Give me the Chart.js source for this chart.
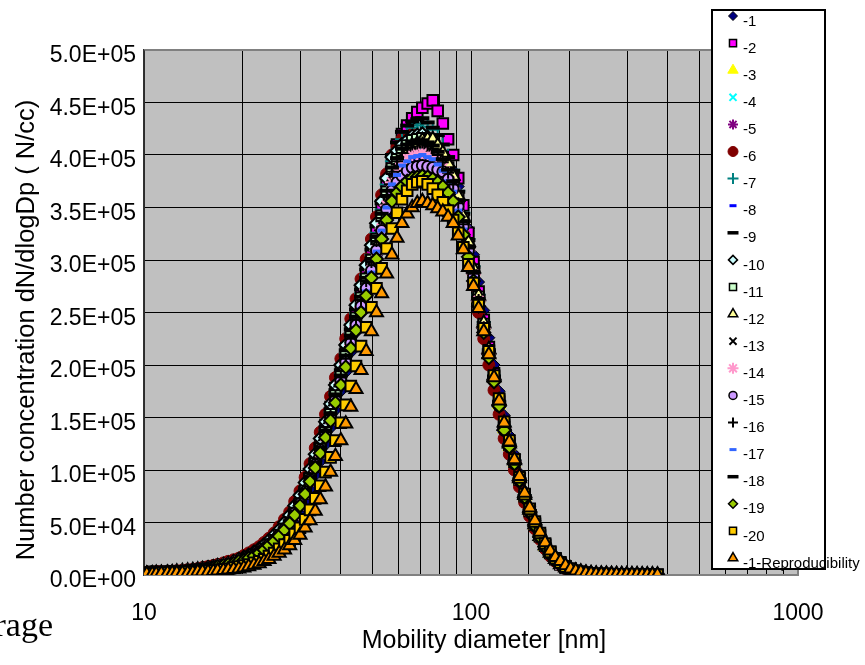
<!DOCTYPE html>
<html>
<head>
<meta charset="utf-8">
<script src="https://cdn.jsdelivr.net/npm/chart.js@4/dist/chart.umd.min.js"></script>
<style>
html,body{margin:0;padding:0;background:#ffffff;}
#wrap{width:865px;height:665px;position:relative;}
canvas{display:block;}
</style>
</head>
<body>
<div id="wrap"><canvas id="c" width="865" height="665"></canvas></div>
<script>
// ---------- DATA (values in units of 1e3 N/cc) ----------
const diameters = [10.2,10.6,10.9,11.3,11.8,12.2,12.6,13.1,13.6,14.1,
  14.6,15.1,15.7,16.3,16.8,17.5,18.1,18.8,19.5,20.2,
  20.9,21.7,22.5,23.3,24.1,25.0,25.9,26.9,27.9,28.9,
  30.0,31.1,32.2,33.4,34.6,35.9,37.2,38.5,40.0,41.4,
  42.9,44.5,46.1,47.8,49.6,51.4,53.3,55.2,57.3,59.4,
  61.5,63.8,66.1,68.5,71.0,73.7,76.4,79.1,82.0,85.1,
  88.2,91.4,94.7,98.2,101.8,105.5,109.4,113.4,117.6,121.9,
  126.3,131.0,135.8,140.7,145.9,151.2,156.8,162.5,168.5,174.7,
  181.1,187.7,194.6,201.7,209.1,216.7,224.7,232.9,241.4,250.3,
  259.5,269.0,278.8,289.0,299.6,310.6,322.0,333.8,346.0,358.7,
  371.8];

const s1 = [2,2,2,2,2,2.5,3,3,3,3.5, 4,4.5,5,6,7,8,9,10,12,13, 15,17,20,23,26,30,34,39,45,52,
  60,70,82,95,108,124,140,157,175,193, 212,231,250,268,286,304,322,342,362,375, 385,391,396,398,400,399,398,395,392,389,
  385,370,352,330,305,279,252,226,200,175, 152,133,115,97,80,65,52,41,31,23, 17,12,8,6,4,3,2,1.5,1,0.9,
  0.8,0.6,0.5,0.45,0.4,0.35,0.3,0.25,0.2,0.15, 0.1];
const s2 = [2,3,3,3,3,3,3,3.5,4,4.5, 5,6,7,8,9,10,11,12,14,16, 18,21,24,27,31,35,40,46,53,62,
  72,84,96,110,126,143,160,178,196,215, 234,253,272,291,310,330,352,375,395,410, 420,428,435,441,445,449,452,442,430,415,
  400,378,352,326,298,270,243,217,192,167, 143,126,110,92,76,62,49,38,29,22, 16,11,8,6,4,3,2,1.5,1,0.9,
  0.8,0.7,0.6,0.5,0.4,0.35,0.3,0.25,0.2,0.15, 0.1];
const s3 = [1,1.5,2,2,2,2.5,3,3.5,4,4.5, 5,5.5,6,7,8,9,10,11,13,14, 16,18,21,24,28,32,37,43,49,57,
  66,77,90,104,118,134,150,168,186,204, 222,240,258,276,295,314,335,358,380,390, 398,404,408,410,412,413,413,407,400,390,
  378,358,338,314,289,263,237,212,187,162, 139,122,107,90,74,60,47,36,27,20, 15,10,7,5,3,2.5,2,1.5,1,0.9,
  0.8,0.6,0.5,0.45,0.4,0.35,0.3,0.25,0.2,0.15, 0.1];
const s4 = [2,2,2,2.5,3,3,3,3.5,4,4.5, 5,5.5,6,7,8,9,10,11,13,15, 17,19,22,25,29,33,38,44,51,59,
  69,80,93,107,121,137,153,171,189,207, 226,244,262,280,297,317,338,360,380,390, 398,402,405,406,405,403,400,394,388,379,
  368,350,330,307,283,258,233,209,185,161, 138,121,106,90,74,60,47,36,27,20, 15,10,7,5,3,2.5,2,1.5,1,0.9,
  0.8,0.6,0.5,0.45,0.4,0.35,0.3,0.25,0.2,0.15, 0.1];
const s5 = [2,2,2,2.5,3,3,3,3.5,4,4.5, 5,6,7,8,9,10,11,12,14,16, 18,20,23,26,30,34,39,45,52,60,
  70,81,94,108,122,138,155,172,190,209, 228,246,265,282,300,320,342,365,386,396, 404,408,410,411,412,410,406,400,394,384,
  372,354,334,311,286,260,235,210,186,162, 139,122,107,90,74,60,47,36,27,20, 15,10,7,5,3,2.5,2,1.5,1,0.9,
  0.8,0.6,0.5,0.45,0.4,0.35,0.3,0.25,0.2,0.15, 0.1];
const s6 = [2,2.5,3,3,3,3.5,4,4.5,5,5.5, 6,7,8,9,10,11.5,13,14.5,16,18.5, 21,24,27,31,35,40,46,53,60,70,
  80,93,106,121,136,153,170,188,206,225, 244,263,282,301,320,341,362,382,400,408, 415,418,420,419,418,414,408,401,392,380,
  366,346,325,301,276,250,225,200,176,153, 130,115,100,84,69,56,44,34,25,18, 13,9,6,4.5,3,2.5,2,1.5,1,0.9,
  0.8,0.6,0.5,0.45,0.4,0.35,0.3,0.25,0.2,0.15, 0.1];
const s7 = [2,2,2,2.5,3,3,3,3.5,4,4.5, 5,5.5,6,7,8,9,10,11,13,15, 17,19,22,25,29,34,39,45,51,60,
  69,81,93,107,122,138,155,173,192,211, 230,249,268,286,305,326,348,372,394,405, 415,421,426,428,430,427,424,418,410,399,
  386,366,345,320,294,267,241,215,190,166, 142,125,109,92,76,62,48,37,28,21, 15,10,7,5,3.5,2.5,2,1.5,1,0.9,
  0.8,0.6,0.5,0.45,0.4,0.35,0.3,0.25,0.2,0.15, 0.1];
const s8 = [1,1.5,2,2,2,2.5,3,3.5,4,4.5, 5,5.5,6,7,8,9,10,11,13,14, 16,18,21,24,28,32,37,43,49,57,
  66,78,90,104,118,134,150,168,186,204, 222,240,259,277,295,315,336,359,381,391, 400,405,409,411,412,410,408,402,396,386,
  375,356,336,312,288,262,236,211,187,163, 139,122,107,90,74,60,47,36,27,20, 15,10,7,5,3,2.5,2,1.5,1,0.9,
  0.8,0.6,0.5,0.45,0.4,0.35,0.3,0.25,0.2,0.15, 0.1];
const s9 = [2,2,2,2.5,3,3,3,3.5,4,4.5, 5,6,7,8,9,10,11,12,14,16, 18,20,23,26,30,35,40,46,53,62,
  71,83,96,110,125,141,158,176,195,214, 234,253,272,291,310,332,354,378,400,412, 422,428,432,434,435,431,426,419,410,398,
  385,365,344,319,293,266,240,214,189,165, 141,124,108,91,75,61,48,37,28,21, 15,10,7,5,3.5,2.5,2,1.5,1,0.9,
  0.8,0.6,0.5,0.45,0.4,0.35,0.3,0.25,0.2,0.15, 0.1];
const s10 = [2,2,2,2.5,3,3,3,3.5,4,4.5, 5,6,7,8,9,10,11,13,15,17, 19,22,25,29,33,38,43,50,57,66,
  76,88,101,115,130,146,163,181,200,219, 238,257,276,295,314,335,356,378,398,404, 410,414,418,419,420,417,414,407,400,389,
  376,356,336,312,287,261,235,210,185,161, 138,122,106,89,73,59,46,36,27,20, 14,10,7,5,3,2.5,2,1.5,1,0.9,
  0.8,0.6,0.5,0.45,0.4,0.35,0.3,0.25,0.2,0.15, 0.1];
const s11 = [2,2,2,2.5,3,3,3,3.5,4,4.5, 5,5.5,6,7,8,9,10,11,13,15, 17,19,22,25,29,33,38,44,50,59,
  68,80,92,106,120,136,153,171,189,208, 227,245,264,282,300,320,342,365,387,396, 404,409,414,415,416,414,411,405,398,388,
  377,359,339,315,291,265,239,214,189,165, 141,124,108,91,75,61,48,37,28,21, 15,10,7,5,3.5,2.5,2,1.5,1,0.9,
  0.8,0.6,0.5,0.45,0.4,0.35,0.3,0.25,0.2,0.15, 0.1];
const s12 = [1,1.5,2,2,2,2.5,3,3.5,4,4.5, 5,5.5,6,7,8,9,10,11,12,14, 16,18,21,24,28,32,36,42,48,56,
  65,76,88,102,116,132,148,165,183,201, 220,238,256,274,292,312,332,355,376,387, 396,403,408,411,414,415,415,409,402,392,
  380,361,341,317,292,266,240,215,190,166, 142,125,109,92,76,62,48,37,28,21, 15,10,7,5,3.5,2.5,2,1.5,1,0.9,
  0.8,0.6,0.5,0.45,0.4,0.35,0.3,0.25,0.2,0.15, 0.1];
const s13 = [2,2,2,2.5,3,3,3,3.5,4,4.5, 5,5.5,6,7,8,9,10,11,13,15, 17,19,22,25,29,33,38,44,50,58,
  67,79,91,105,119,135,151,168,186,204, 223,241,259,276,294,313,334,356,378,388, 396,400,404,405,406,404,401,396,390,381,
  370,352,333,310,287,262,236,211,187,163, 140,123,108,91,75,61,48,37,28,21, 15,10,7,5,3.5,2.5,2,1.5,1,0.9,
  0.8,0.6,0.5,0.45,0.4,0.35,0.3,0.25,0.2,0.15, 0.1];
const s14 = [2,2,2,2.5,3,3,3,3.5,4,4.5, 5,5.5,6,7,8,9,10,11,13,14, 16,18,21,24,28,32,37,43,49,57,
  66,77,89,103,117,132,148,165,183,201, 219,237,255,272,290,309,330,352,374,384, 392,397,400,401,402,400,398,393,388,379,
  368,351,332,309,286,261,235,211,187,163, 140,123,108,91,75,61,48,37,28,21, 15,10,7,5,3.5,2.5,2,1.5,1,0.9,
  0.8,0.6,0.5,0.45,0.4,0.35,0.3,0.25,0.2,0.15, 0.1];
const s15 = [2,2,2,2.5,3,3,3,3.5,4,4.5, 5,5.5,6,7,8,9,10,11,13,15, 17,19,22,25,29,33,38,44,50,59,
  68,79,91,105,119,134,150,167,185,203, 221,238,256,273,290,309,328,348,366,374, 380,385,388,389,390,389,388,386,384,377,
  368,351,332,309,285,260,234,209,185,161, 138,122,106,90,74,60,47,36,27,20, 14,10,7,5,3,2.5,2,1.5,1,0.9,
  0.8,0.6,0.5,0.45,0.4,0.35,0.3,0.25,0.2,0.15, 0.1];
const s16 = [2,2,2,2.5,3,3,3,3.5,4,4.5, 5,5.5,6,7,8,9,10,11,13,15, 17,19,22,25,29,33,38,44,50,59,
  68,80,92,106,120,136,152,170,188,206, 225,243,262,280,298,318,340,362,384,394, 402,407,410,411,412,409,406,400,393,383,
  372,354,334,311,287,262,236,211,187,163, 140,123,108,91,75,61,48,37,28,21, 15,10,7,5,3.5,2.5,2,1.5,1,0.9,
  0.8,0.6,0.5,0.45,0.4,0.35,0.3,0.25,0.2,0.15, 0.1];
const s17 = [1,1.5,2,2,2,2.5,3,3.5,4,4.5, 5,5.5,6,7,8,9,10,11,12,14, 16,18,21,24,27,31,36,42,48,56,
  65,76,88,101,115,130,146,163,181,199, 217,235,253,270,288,308,328,350,372,381, 390,394,398,399,400,398,396,391,385,375,
  365,347,329,306,283,257,232,208,184,161, 138,122,106,90,74,60,47,36,27,20, 15,10,7,5,3,2.5,2,1.5,1,0.9,
  0.8,0.6,0.5,0.45,0.4,0.35,0.3,0.25,0.2,0.15, 0.1];
const s18 = [2,2,2,2.5,3,3,3,3.5,4,4.5, 5,5.5,6,7,8,9,10,11,13,15, 17,19,22,25,29,33,38,44,51,60,
  69,81,93,107,121,137,154,172,190,209, 228,246,265,283,301,322,344,366,388,397, 406,410,413,414,414,412,409,403,396,386,
  375,357,337,313,289,263,237,212,188,164, 140,123,108,91,75,61,48,37,28,21, 15,10,7,5,3.5,2.5,2,1.5,1,0.9,
  0.8,0.6,0.5,0.45,0.4,0.35,0.3,0.25,0.2,0.15, 0.1];
const s19 = [2,2,2,2.5,3,3,3,3.5,4,4.5, 5,5.5,6,7,8,9,10,11,13,14, 16,18,21,24,28,32,37,43,49,57,
  66,77,89,102,116,131,147,164,181,198, 216,233,250,266,283,301,320,338,356,364, 370,375,378,379,380,379,377,374,370,364,
  356,341,324,303,280,256,231,207,184,161, 138,122,106,90,74,60,47,36,27,20, 15,10,7,5,3,2.5,2,1.5,1,0.9,
  0.8,0.6,0.5,0.45,0.4,0.35,0.3,0.25,0.2,0.15, 0.1];
const s20 = [1,1.5,2,2,2,2,2,2.5,3,3, 3,3.5,4,4.5,5,5.5,6,7,8,9, 10,11.5,13,15,18,21,25,29,33,39,
  45,53,62,73,85,98,112,128,145,162, 180,199,218,236,255,273,292,311,330,345, 358,366,372,374,375,372,368,362,355,347,
  338,326,312,296,278,257,235,213,190,168, 146,128,110,93,77,63,51,40,30,22, 16,12,8,6,4,3,2,1.5,1,1,
  1,0.8,0.6,0.55,0.5,0.45,0.4,0.35,0.3,0.25, 0.2];
const sRepro = [1,1,1,1.5,2,2,2,2,2,2.5, 3,3,3,3.5,4,4.5,5,5.5,6,7, 8,9.5,11,13,15,18,21,24,28,33,
  38,45,52,61,72,84,98,113,128,144, 160,177,195,213,232,250,268,287,305,321, 335,344,350,354,356,354,352,349,346,341,
  335,323,310,293,275,254,232,210,188,166, 145,127,110,94,78,64,52,41,31,23, 17,13,9,6,4,3,2,1.5,1,1,
  1,0.8,0.6,0.55,0.5,0.45,0.4,0.35,0.3,0.25, 0.2];

const seriesLabels = ['-1','-2','-3','-4','-5','-6','-7','-8','-9','-10',
  '-11','-12','-13','-14','-15','-16','-17','-18','-19','-20','-1-Reproducibility'];
const seriesValues = [s1,s2,s3,s4,s5,s6,s7,s8,s9,s10,s11,s12,s13,s14,s15,s16,s17,s18,s19,s20,sRepro];
const VALUE_UNIT = 1000;
const xTickLabels = [10, 100, 1000];
const yMin = 0, yMax = 500000, yStep = 50000;

// ---------- STYLES ----------
const markerStyles = [
 {style:'rectRot',  bg:'#000080', bd:'#000000', bw:1, r:6,   lr:4.5, lbw:1},
 {style:'rect',     bg:'#FF00FF', bd:'#000000', bw:2, r:7.5, lr:5,   lbw:1.5},
 {style:'triangle', bg:'#FFFF00', bd:'#FFFF00', bw:1, r:7.5, lr:6,   lbw:1},
 {style:'crossRot', bg:'#00FFFF', bd:'#00FFFF', bw:2, r:6,   lr:5,   lbw:2},
 {style:'star',     bg:'#800080', bd:'#800080', bw:2, r:6,   lr:5,   lbw:2},
 {style:'circle',   bg:'#800000', bd:'#800000', bw:1, r:6,   lr:5,   lbw:1},
 {style:'cross',    bg:'#008080', bd:'#008080', bw:2, r:7,   lr:5.5, lbw:2},
 {style:'line',     bg:'#0000FF', bd:'#0000FF', bw:4, r:4,   lr:3.5, lbw:3},
 {style:'line',     bg:'#000000', bd:'#000000', bw:4, r:7,   lr:5.5, lbw:3.5},
 {style:'rectRot',  bg:'#CCFFFF', bd:'#000000', bw:2, r:6.5, lr:4.5, lbw:1.5},
 {style:'rect',     bg:'#CCFFCC', bd:'#000000', bw:2, r:7.5, lr:5,   lbw:1.5},
 {style:'triangle', bg:'#FFFF99', bd:'#000000', bw:2, r:7.5, lr:5.5, lbw:1.5},
 {style:'crossRot', bg:'#000000', bd:'#000000', bw:2, r:6,   lr:5,   lbw:2},
 {style:'star',     bg:'#FF99CC', bd:'#FF99CC', bw:2, r:7,   lr:5.5, lbw:2},
 {style:'circle',   bg:'#CC99FF', bd:'#000000', bw:2, r:5.5, lr:4,   lbw:1.5},
 {style:'cross',    bg:'#000000', bd:'#000000', bw:2, r:6,   lr:5,   lbw:2},
 {style:'line',     bg:'#3366FF', bd:'#3366FF', bw:4, r:4,   lr:3.5, lbw:3},
 {style:'line',     bg:'#000000', bd:'#000000', bw:4, r:7,   lr:5.5, lbw:3.5},
 {style:'rectRot',  bg:'#99CC00', bd:'#000000', bw:2, r:6.5, lr:4.5, lbw:1.5},
 {style:'rect',     bg:'#FFCC00', bd:'#000000', bw:2, r:7.5, lr:5,   lbw:1.5},
 {style:'triangle', bg:'#FF9900', bd:'#000000', bw:2, r:7.5, lr:5.5, lbw:1.5}
];

const FONT = '"Liberation Sans", Arial, Helvetica, sans-serif';

const datasets = seriesValues.map((vals, i) => {
  const m = markerStyles[i];
  return {
    label: seriesLabels[i],
    data: vals.map((v, k) => ({x: diameters[k], y: v * VALUE_UNIT})),
    showLine: false,
    pointStyle: m.style,
    pointRadius: m.r,
    pointHoverRadius: m.r,
    pointBackgroundColor: m.bg,
    pointBorderColor: m.bd,
    pointBorderWidth: m.bw,
    order: seriesValues.length - 1 - i
  };
});

function sci(v) {
  if (v === 0) return '0.0E+00';
  const e = Math.floor(Math.log10(v) + 1e-9);
  const m = v / Math.pow(10, e);
  return m.toFixed(1) + 'E+' + String(e).padStart(2, '0');
}

function drawMarker(ctx, m, x, y, r, bw) {
  ctx.save();
  ctx.fillStyle = m.bg;
  ctx.strokeStyle = m.bd;
  ctx.lineWidth = bw;
  if (Chart.helpers && Chart.helpers.drawPoint) {
    Chart.helpers.drawPoint(ctx, {pointStyle: m.style, radius: r, rotation: 0, borderWidth: bw}, x, y);
  }
  ctx.restore();
}

const decor = {
  id: 'decor',
  beforeDraw(chart) {
    const {ctx, chartArea: a} = chart;
    ctx.save();
    ctx.fillStyle = '#C0C0C0';
    ctx.fillRect(a.left, a.top, a.right - a.left, a.bottom - a.top);
    ctx.restore();
  },
  beforeDatasetsDraw(chart) {
    const {ctx, chartArea: a} = chart;
    ctx.save();
    ctx.strokeStyle = '#808080';
    ctx.lineWidth = 2;
    ctx.beginPath();
    ctx.moveTo(a.left, a.top); ctx.lineTo(a.right, a.top); ctx.lineTo(a.right, a.bottom); ctx.lineTo(a.left, a.bottom);
    ctx.stroke();
    ctx.strokeStyle = '#333333';
    ctx.lineWidth = 1.5;
    ctx.beginPath();
    ctx.moveTo(a.left, a.top); ctx.lineTo(a.left, a.bottom);
    ctx.stroke();
    ctx.restore();
  },
  afterDraw(chart) {
    const ctx = chart.ctx;
    // axis titles
    ctx.save();
    ctx.fillStyle = '#000';
    ctx.font = '25px ' + FONT;
    ctx.textAlign = 'center';
    ctx.textBaseline = 'middle';
    ctx.fillText('Mobility diameter [nm]', 484, 641);
    ctx.font = '25.5px ' + FONT;
    ctx.translate(27, 330);
    ctx.rotate(-Math.PI / 2);
    ctx.fillText('Number concentration dN/dlogDp ( N/cc)', 0, 0);
    ctx.restore();
    // cut-off text at bottom left
    ctx.save();
    ctx.fillStyle = '#000';
    ctx.font = '34px "Liberation Serif", "Times New Roman", serif';
    ctx.textAlign = 'right';
    ctx.textBaseline = 'alphabetic';
    ctx.fillText('rage', 53, 636);
    ctx.restore();
    // legend
    const lx = 712, ly = 10, lw = 113, lh = 559;
    ctx.save();
    ctx.fillStyle = '#FFFFFF';
    ctx.fillRect(lx, ly, lw, lh);
    ctx.strokeStyle = '#000000';
    ctx.lineWidth = 2;
    ctx.strokeRect(lx, ly, lw, lh);
    ctx.restore();
    seriesLabels.forEach((lab, i) => {
      const m = markerStyles[i];
      const y = 16 + i * 27.1;
      drawMarker(ctx, m, 733, y, m.lr, m.lbw);
      ctx.save();
      ctx.fillStyle = '#000';
      ctx.font = '15px ' + FONT;
      ctx.textAlign = 'left';
      ctx.textBaseline = 'middle';
      ctx.fillText(lab, 743, y + 5.5);
      ctx.restore();
    });
  }
};

new Chart(document.getElementById('c'), {
  type: 'scatter',
  data: {datasets},
  options: {
    responsive: false,
    animation: false,
    events: [],
    layout: {padding: {top: 50, right: 67, left: 0, bottom: 0}},
    plugins: {legend: {display: false}, tooltip: {enabled: false}},
    scales: {
      x: {
        type: 'logarithmic',
        min: 10, max: 1000,
        position: 'bottom',
        grid: {color: '#000000', lineWidth: 1, drawTicks: false},
        border: {display: true, color: '#808080', width: 2},
        ticks: {
          autoSkip: false, maxRotation: 0, minRotation: 0, padding: 25,
          color: '#000', font: {family: FONT, size: 23},
          callback: (v) => {
            const hit = xTickLabels.find(t => Math.abs(t - v) < 1e-6 * t);
            return hit !== undefined ? String(hit) : '';
          }
        },
        afterFit(s) { s.height = 90; }
      },
      y: {
        min: yMin, max: yMax,
        grid: {color: '#000000', lineWidth: 1, drawTicks: false},
        border: {display: true, color: '#333333', width: 1.5},
        ticks: {
          stepSize: yStep, padding: 8, labelOffset: 6, color: '#000',
          font: {family: FONT, size: 23},
          callback: (v) => sci(v)
        },
        afterFit(s) { s.width = 144; }
      }
    }
  },
  plugins: [decor]
});
</script>
</body>
</html>
